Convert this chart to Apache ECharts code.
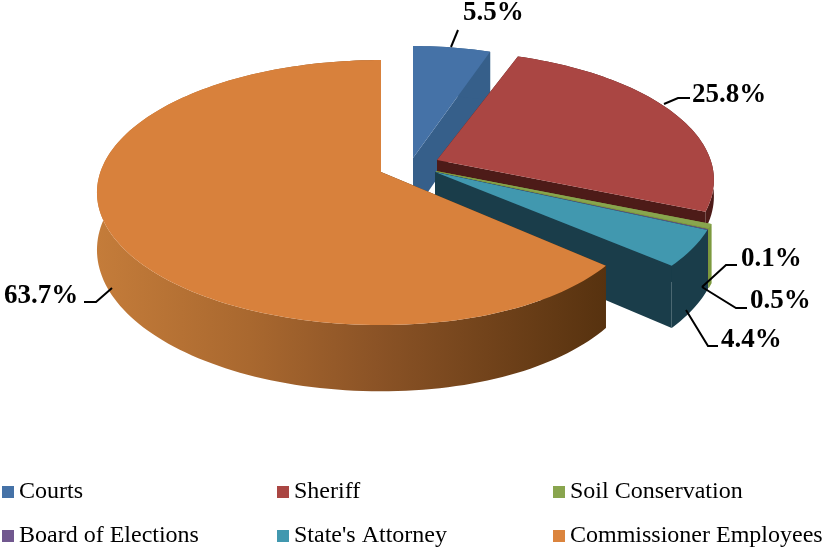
<!DOCTYPE html>
<html><head><meta charset="utf-8">
<style>html,body{margin:0;padding:0;background:#fff}#c{width:825px;height:550px}</style>
<script src="https://cdn.jsdelivr.net/npm/echarts@6/dist/echarts.min.js"></script>
</head><body><div id="c"></div>
<script>
const categories = ['Courts','Sheriff','Soil Conservation','Board of Elections',"State's Attorney",'Commissioner Employees'];
const shares = [5.5,25.8,0.5,0.1,4.4,63.7];
const topColors = ['#4572A7','#AA4643','#89A54E','#71588F','#4198AF','#D8813C'];
const legendColors = ['#4572A7','#AA4643','#89A54E','#71588F','#4198AF','#DB843D'];
const wallColors = ['#365F8A','#4D1B18','#7D9A3F','#3C2A55','#1A3D4A','#57320F'];

// layout of the perspective pie
const C = {x:381,y:172,rx:280.6,ry:129.3,k:0.155};
const depths = [56,16,56,56,56,56];
const shift = [[32,-14],[56,-12],[55,-1],[54,0],[54,0],[0,0]];
const scaleXY = [[0.93,1],[0.975,0.975],[1,1],[1,1],[1,1],[1,1]];
const rightSquash = [0,0,0,0,0,0.066];
const labelLayout = [
  {t:[463,13],l:[[451,47],[458,30]]},
  {t:[692,95],l:[[664,104],[678,98],[690,98]]},
  {t:[750,301],l:[[702,287],[736,308],[747,308]]},
  {t:[741,259],l:[[702,287],[726,265],[737,265]]},
  {t:[721,340],l:[[686,310],[708,346],[718,346]]},
  {t:[4,296],l:[[112,288],[96,302],[84,302]]}
];

const total = shares.reduce((a,b)=>a+b,0);
const starts = []; let acc = 0;
shares.forEach(v=>{starts.push(acc); acc+=v;});

function rim(angle,idx){
  const X=Math.sin(angle), Y=-Math.cos(angle), s=1/(1-C.k*Y);
  const q=1-rightSquash[idx]*Math.max(0,X);
  return {x:C.rx*X*s*q*scaleXY[idx][0], y:C.ry*Y*s*scaleXY[idx][1], s};
}
function renderSlice(idx){
  return function(params, api){
    const v = api.value(0);
    const a0 = starts[idx]/total*2*Math.PI, a1 = a0+v/total*2*Math.PI;
    const ox = C.x+shift[idx][0], oy = C.y+shift[idx][1];
    const n = Math.max(2, Math.ceil((a1-a0)/(Math.PI/180*1.5)));
    const pts=[];
    for(let i=0;i<=n;i++){
      const r=rim(a0+(a1-a0)*i/n,idx);
      pts.push({x:ox+r.x,y:oy+r.y,s:r.s});
    }
    const d = p=>[p.x,p.y+depths[idx]*(p.s||1)];
    const xy = p=>[p.x,p.y];
    const apex={x:ox,y:oy,s:1};
    const wall = wallColors[idx];
    const face = (p)=>({type:'polygon',shape:{points:[xy(apex),xy(p),d(p),d(apex)]},style:{fill:wall}});
    const outerFill = idx===5
      ? {type:'linear',x:97,y:0,x2:605,y2:0,global:true,colorStops:[
          {offset:0,color:'#C47C3A'},{offset:0.3,color:'#A9682F'},
          {offset:0.55,color:'#8B5326'},{offset:1,color:'#57320F'}]}
      : wall;
    const outer = pts.map(xy).concat(pts.slice().reverse().map(d));
    const top = [xy(apex)].concat(pts.map(xy));
    return {type:'group',children:[
      face(pts[0]), face(pts[pts.length-1]),
      {type:'polygon',shape:{points:outer},style:{fill:outerFill}},
      {type:'polygon',shape:{points:top},style:{fill:topColors[idx]}}
    ]};
  };
}
function renderLabel(params, api){
  const L = labelLayout[params.dataIndex];
  return {type:'group',children:[
    {type:'polyline',shape:{points:L.l},style:{fill:null,stroke:'#000',lineWidth:2}},
    {type:'text',x:L.t[0],y:L.t[1],style:{
      text:api.value(0).toFixed(1)+'%',fill:'#000',font:'bold 27px "Liberation Serif"',align:'left',verticalAlign:'middle'}}
  ]};
}
const series = categories.map((name,i)=>({
  type:'custom',name,coordinateSystem:'none',silent:true,z:i+1,
  itemStyle:{color:legendColors[i]},
  renderItem:renderSlice(i),data:[[shares[i]]]
}));
series.push({type:'custom',name:'labels',coordinateSystem:'none',silent:true,z:20,
  renderItem:renderLabel,data:shares.map(v=>[v])});
const legendCols=[[0,3,0],[1,4,275],[2,5,551]];
const chart = echarts.init(document.getElementById('c'),null,{renderer:'canvas'});
chart.setOption({
  animation:false,backgroundColor:'#fff',
  legend:legendCols.map(c=>({
    orient:'vertical',left:c[2],top:480,padding:[0,0,0,2],itemWidth:12,itemHeight:12,itemGap:20,
    icon:'rect',selectedMode:false,
    data:[categories[c[0]],categories[c[1]]],
    textStyle:{color:'#000',fontFamily:'Liberation Serif',fontSize:24,lineHeight:24}
  })),
  series
});
</script></body></html>
